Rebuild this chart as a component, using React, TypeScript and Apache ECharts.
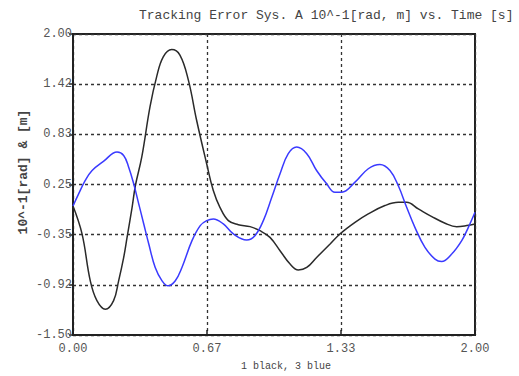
import React, { useEffect, useRef } from "react";
import * as echarts from "echarts";

const titleText = "Tracking Error Sys. A 10^-1[rad, m] vs. Time [s]";
const yAxisTitle = "10^-1[rad] & [m]";
const xAxisTitle = "1 black, 3 blue";

const xMin = 0;
const xMax = 2;
const yMin = -1.5;
const yMax = 2;
const xTickLabels = ["0.00", "0.67", "1.33", "2.00"];
const yTickLabels = ["-1.50", "-0.92", "-0.35", "0.25", "0.83", "1.42", "2.00"];

// series 1 (black)
const blackTime = [
  0, 0.045, 0.086, 0.119, 0.161, 0.202, 0.227, 0.252, 0.269, 0.294, 0.311, 0.342, 0.383, 0.416,
  0.449, 0.491, 0.532, 0.574, 0.615, 0.665, 0.698, 0.731, 0.773, 0.822, 0.881, 0.93, 0.98, 1.03,
  1.08, 1.121, 1.163, 1.212, 1.279, 1.328, 1.403, 1.469, 1.552, 1.618, 1.66, 1.718, 1.785, 1.851,
  1.909, 1.959, 2.0,
];
const blackValue = [
  0.0, -0.325, -0.87, -1.1, -1.2, -1.1, -0.87, -0.6, -0.365, -0.015, 0.244, 0.568, 1.152, 1.502,
  1.735, 1.82, 1.755, 1.463, 0.997, 0.491, 0.18, -0.015, -0.17, -0.217, -0.24, -0.287, -0.365, -0.52,
  -0.675, -0.745, -0.715, -0.598, -0.442, -0.325, -0.19, -0.092, 0.005, 0.043, 0.043, -0.034, -0.123,
  -0.2, -0.24, -0.228, -0.21,
];

// series 3 (blue)
const blueTime = [
  0, 0.028, 0.061, 0.095, 0.153, 0.219, 0.252, 0.277, 0.302, 0.327, 0.352, 0.377, 0.409, 0.443,
  0.473, 0.509, 0.542, 0.592, 0.633, 0.665, 0.698, 0.748, 0.798, 0.864, 0.905, 0.947, 0.989, 1.03,
  1.071, 1.113, 1.163, 1.212, 1.262, 1.303, 1.337, 1.403, 1.469, 1.527, 1.577, 1.618, 1.66, 1.701,
  1.751, 1.801, 1.834, 1.884, 1.934, 1.967, 2.0,
];
const blueValue = [
  0.0, 0.141, 0.297, 0.413, 0.522, 0.627, 0.588, 0.452, 0.258, 0.025, -0.209, -0.442, -0.715, -0.87,
  -0.928, -0.87, -0.715, -0.403, -0.228, -0.17, -0.15, -0.209, -0.325, -0.395, -0.345, -0.17, 0.102,
  0.375, 0.608, 0.685, 0.608, 0.413, 0.258, 0.16, 0.16, 0.277, 0.433, 0.483, 0.413, 0.238, -0.015,
  -0.248, -0.482, -0.617, -0.645, -0.559, -0.403, -0.248, -0.073,
];

const FONT = "'Liberation Mono', 'DejaVu Sans Mono', monospace";

// map real units onto axis units where each tick step is exactly 1
const xSteps = xTickLabels.length - 1;
const ySteps = yTickLabels.length - 1;
const toX = (t: number) => ((t - xMin) / (xMax - xMin)) * xSteps;
const toY = (v: number) => ((v - yMin) / (yMax - yMin)) * ySteps;

export default function App() {
  const ref = useRef<HTMLDivElement>(null);
  useEffect(() => {
    document.body.style.margin = "0";
    if (!ref.current) return;
    const chart = echarts.init(ref.current, undefined, { renderer: "svg" });
    const gridStyle = { color: "#333", width: 1.3, type: [3, 3] as number[] };
    chart.setOption({
      animation: false,
      backgroundColor: "#fff",
      grid: {
        left: 73,
        right: 44,
        top: 34,
        bottom: 41,
        show: true,
        borderColor: "#222",
        borderWidth: 2,
        backgroundColor: "transparent",
      },
      xAxis: {
        type: "value",
        min: 0,
        max: xSteps,
        interval: 1,
        axisLine: { show: true, lineStyle: { color: "#222", width: 2 } },
        axisTick: { show: true, inside: true, length: 5, lineStyle: { color: "#222", width: 1.5 } },
        axisLabel: {
          margin: 8,
          color: "#555",
          fontFamily: FONT,
          fontSize: 12,
          formatter: (_v: number, i: number) => xTickLabels[i] ?? "",
        },
        splitLine: { show: true, lineStyle: gridStyle },
      },
      yAxis: {
        type: "value",
        min: 0,
        max: ySteps,
        interval: 1,
        axisLine: { show: true, lineStyle: { color: "#222", width: 2 } },
        axisTick: { show: true, inside: false, length: 4, lineStyle: { color: "#222", width: 1.5 } },
        axisLabel: {
          margin: 1,
          color: "#555",
          fontFamily: FONT,
          fontSize: 12,
          formatter: (_v: number, i: number) => yTickLabels[i] ?? "",
        },
        splitLine: { show: true, lineStyle: gridStyle },
      },
      graphic: [
        {
          type: "text",
          left: 139,
          top: 9,
          style: { text: titleText, fill: "#444", font: `13px ${FONT}` },
        },
        {
          type: "text",
          x: 23,
          y: 172,
          rotation: Math.PI / 2,
          style: {
            text: yAxisTitle,
            fill: "#444",
            font: `bold 13px ${FONT}`,
            align: "center",
            verticalAlign: "middle",
          },
        },
        {
          type: "text",
          x: 286,
          y: 366,
          style: {
            text: xAxisTitle,
            fill: "#444",
            font: `10px ${FONT}`,
            align: "center",
            verticalAlign: "middle",
          },
        },
      ],
      series: [
        {
          type: "line",
          name: "1 black",
          data: blackTime.map((t, i) => [toX(t), toY(blackValue[i])]),
          smooth: 0.4,
          showSymbol: false,
          lineStyle: { color: "#2a2a2a", width: 1.5 },
          z: 3,
        },
        {
          type: "line",
          name: "3 blue",
          data: blueTime.map((t, i) => [toX(t), toY(blueValue[i])]),
          smooth: 0.4,
          showSymbol: false,
          lineStyle: { color: "#3a3aff", width: 1.5 },
          z: 4,
        },
      ],
    });
    return () => chart.dispose();
  }, []);
  return <div ref={ref} style={{ width: 519, height: 376 }} />;
}
